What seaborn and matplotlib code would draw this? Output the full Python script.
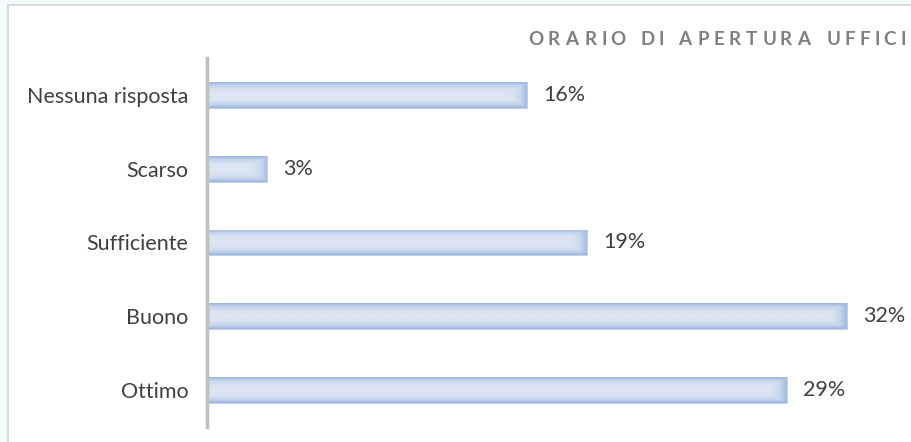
import numpy as np
import pandas as pd
import seaborn as sns
import matplotlib.pyplot as plt
from matplotlib.patches import Rectangle
from matplotlib.colors import LinearSegmentedColormap
from matplotlib.textpath import TextPath
from matplotlib.font_manager import FontProperties

categories = ["Nessuna risposta", "Scarso", "Sufficiente", "Buono", "Ottimo"]
values = [16, 3, 19, 32, 29]
labels = ["16%", "3%", "19%", "32%", "29%"]
title = "ORARIO DI APERTURA UFFICI"

df = pd.DataFrame({"cat": categories, "val": values})

sns.set_theme(style="white")
plt.rcParams['font.family'] = ['Lato', 'DejaVu Sans']

fig = plt.figure(figsize=(9.11, 4.42), dpi=100, facecolor="#f4fbfc")
fig.patches.append(Rectangle((8/911, -0.05), 1.05, 1 - 5/442 + 0.05, transform=fig.transFigure,
                             facecolor="white", edgecolor="#d9d9d9", linewidth=1.5, zorder=-5))

ax = fig.add_axes([207/911, 1 - 427/442, 1 - 207/911, (427 - 58)/442])
ax.set_facecolor("none")
sns.barplot(data=df, x="val", y="cat", orient="h", ax=ax, width=0.35,
            color="#c5d4ec", edgecolor="none", saturation=1)
ax.set_xlim(0, 35.2)
ax.set_ylim(4.5, -0.5)

cmap = LinearSegmentedColormap.from_list("g", ["#dde6f2", "#c5d5ed", "#9ab5e0"])
ny, nx = 40, 200
yy = np.abs(np.linspace(-1, 1, ny))[:, None]
for bar in ax.patches:
    x0, y0 = bar.get_x(), bar.get_y()
    w, h = bar.get_width(), bar.get_height()
    xs = np.linspace(0, w, nx)
    endfade = np.clip(1 - (w - xs) / 0.9, 0, 1)[None, :]
    startfade = np.clip(1 - xs / 0.15, 0, 1)[None, :]
    z = np.maximum(yy ** 2.2, np.maximum(endfade ** 1.5 * 0.85, startfade * 0.4))
    im = ax.imshow(z, cmap=cmap, vmin=0, vmax=1, aspect="auto",
                   extent=(x0, x0 + w, y0 + h, y0), interpolation="bilinear", zorder=2)
    im.set_clip_path(bar)
    bar.set_edgecolor("#bccde9")
    bar.set_linewidth(0.6)

for i, (v, lab) in enumerate(zip(values, labels)):
    ax.annotate(lab, xy=(v, i), xytext=(16, 0), textcoords="offset pixels",
                va="center", ha="left", fontsize=15.5, color="#404040")

ax.set_xlabel("")
ax.set_ylabel("")
ax.set_xticks([])
ax.tick_params(axis="y", length=0, pad=13.5, labelsize=15.5, labelcolor="#404040")
for s in ["top", "right", "bottom"]:
    ax.spines[s].set_visible(False)
ax.spines["left"].set_color("#bfbfbf")
ax.spines["left"].set_linewidth(2.5)
ax.spines["left"].set_zorder(5)

# letter-spaced title
fp = FontProperties(family="Lato", weight="bold", size=13.5)
px_per_pt = 100 / 72
widths = []
for ch in title:
    if ch == " ":
        widths.append(TextPath((0, 0), "a a", prop=fp).get_extents().width * px_per_pt
                      - TextPath((0, 0), "aa", prop=fp).get_extents().width * px_per_pt)
    else:
        widths.append(TextPath((0, 0), ch, prop=fp).get_extents().width * px_per_pt)
x_start, x_end = 528, 903
natural = sum(widths)
track = (x_end - x_start - natural) / (len(title) - 1)
x = x_start
for ch, wch in zip(title, widths):
    if ch != " ":
        fig.text(x / 911, 1 - 45 / 442, ch, fontproperties=fp, color="#7f7f7f",
                 ha="left", va="baseline")
    x += wch + track

fig.savefig("out.png", dpi=100, facecolor=fig.get_facecolor())
